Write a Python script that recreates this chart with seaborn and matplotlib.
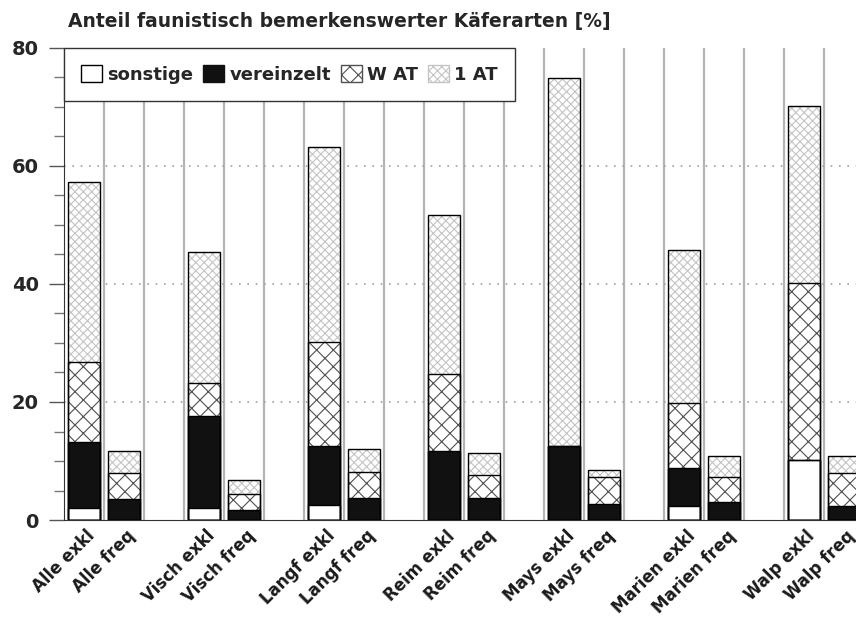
"""
Anteil faunistisch bemerkenswerter Kaeferarten - gestapelte Balken
"""
import numpy as np
import pandas as pd
import matplotlib
matplotlib.use('Agg')
import matplotlib.pyplot as plt
import seaborn as sns
from matplotlib.patches import Patch
from matplotlib.transforms import ScaledTranslation

# Data (percent)
labels = ['Alle exkl', 'Alle freq', 'Visch exkl', 'Visch freq', 'Langf exkl', 'Langf freq',
          'Reim exkl', 'Reim freq', 'Mays exkl', 'Mays freq', 'Marien exkl', 'Marien freq',
          'Walp exkl', 'Walp freq']
sonstige = [2.0, 0, 2.0, 0, 2.5, 0, 0, 0, 0, 0, 2.3, 0, 10.2, 0]
vereinzelt = [11.3, 3.6, 15.7, 1.7, 10.0, 3.7, 11.7, 3.8, 12.5, 2.7, 6.5, 3.0, 0, 2.3]
w_at = [13.4, 4.3, 5.6, 2.7, 17.7, 4.4, 13.0, 3.8, 0, 4.6, 11.0, 4.3, 29.9, 5.7]
at_1 = [30.6, 3.8, 22.2, 2.4, 33.1, 3.9, 27.0, 3.8, 62.4, 1.2, 26.0, 3.6, 30.0, 2.9]
legend_names = ['sonstige', 'vereinzelt', 'W AT', '1 AT']
title = 'Anteil faunistisch bemerkenswerter Käferarten [%]'

df = pd.DataFrame({'label': labels, 'sonstige': sonstige, 'vereinzelt': vereinzelt,
                   'w_at': w_at, 'at_1': at_1})
df['c1'] = df['sonstige']
df['c2'] = df['c1'] + df['vereinzelt']
df['c3'] = df['c2'] + df['w_at']
df['c4'] = df['c3'] + df['at_1']

# one empty slot after each pair
order = []
for i in range(0, len(labels), 2):
    order += [labels[i], labels[i + 1], ' ' * (i // 2 + 1)]

sns.set_style('white')
plt.rcParams['font.family'] = ['DejaVu Sans']
plt.rcParams['hatch.linewidth'] = 0.8

fig = plt.figure(figsize=(8.56, 6.21), dpi=100)
ax = fig.add_axes([64 / 856, 101 / 621, 840 / 856, 472 / 621])

# separators and grid
for x in np.arange(0.5, len(order) - 0.5, 1):
    ax.axvline(x, color='#b4b4b4', lw=1.6, zorder=0.5)
for y in [20, 40, 60]:
    ax.axhline(y, color='#a0a0a0', ls=(0, (1, 4)), lw=1.2, zorder=0.5)

# stacked bars: draw cumulative totals from top to bottom
layers = [('c4', 'white', '#c4c4c4', 'xxxx'),
          ('c3', 'white', '#505050', 'xx'),
          ('c2', '#111111', '#111111', None),
          ('c1', 'white', 'white', None)]
for col, face, hcol, hatch in layers:
    n0 = len(ax.patches)
    sns.barplot(data=df, x='label', y=col, order=order, color=face, width=0.8,
                errorbar=None, ax=ax, saturation=1)
    for p in ax.patches[n0:]:
        p.set_facecolor(face)
        p.set_edgecolor(hcol)
        p.set_linewidth(0)
        if hatch:
            p.set_hatch(hatch)
        p.set_zorder(2)

# outlines of each segment
for col in ['c4', 'c3', 'c2', 'c1']:
    n0 = len(ax.patches)
    sns.barplot(data=df, x='label', y=col, order=order, width=0.8,
                errorbar=None, ax=ax, fill=False)
    for p in ax.patches[n0:]:
        p.set_facecolor('none')
        p.set_edgecolor('black')
        p.set_linewidth(1.0)
        p.set_zorder(3)

ax.set_xlim(-0.5, len(order) - 0.5)
ax.set_ylim(0, 80)
ax.set_xlabel('')
ax.set_ylabel('')
sns.despine(ax=ax, top=True, right=True)
ax.spines['left'].set_color('#333333')
ax.spines['bottom'].set_color('#333333')

ax.set_yticks([0, 20, 40, 60, 80])
ax.set_yticks(np.arange(0, 81, 5), minor=True)
ax.tick_params(axis='y', which='major', length=11, width=1, color='#555555',
               labelsize=14, pad=7, direction='out', left=True)
ax.tick_params(axis='y', which='minor', length=7, width=1, color='#777777',
               direction='out', left=True)
for t in ax.get_yticklabels():
    t.set_fontweight('bold')

ax.tick_params(axis='x', length=0, pad=5)
ax.set_xticks(range(len(order)))
ax.set_xticklabels(order, rotation=45, ha='right', rotation_mode='anchor',
                   fontsize=12, fontweight='bold', color='#1a1a1a')
offset = ScaledTranslation(2 / 100, 0, fig.dpi_scale_trans)
for t in ax.get_xticklabels():
    t.set_transform(t.get_transform() + offset)

handles = [Patch(facecolor='white', edgecolor='black', lw=1),
           Patch(facecolor='#111111', edgecolor='#111111', lw=1),
           Patch(facecolor='white', edgecolor='#505050', hatch='xx', lw=1),
           Patch(facecolor='white', edgecolor='#c4c4c4', hatch='xxxx', lw=1)]
leg = ax.legend(handles, legend_names, loc='upper left', bbox_to_anchor=(0, 1), ncol=4,
                frameon=True, fancybox=False, edgecolor='#333333', framealpha=1,
                borderaxespad=0, prop={'weight': 'bold', 'size': 13},
                handlelength=1.15, handleheight=1.1, handletextpad=0.3,
                columnspacing=0.55, borderpad=0.95)
leg.get_frame().set_linewidth(1.0)
leg.set_zorder(5)

fig.text(68 / 856, 1 - 27 / 621, title, fontsize=13.5, fontweight='bold', va='baseline')

fig.savefig('out.png', dpi=100)
